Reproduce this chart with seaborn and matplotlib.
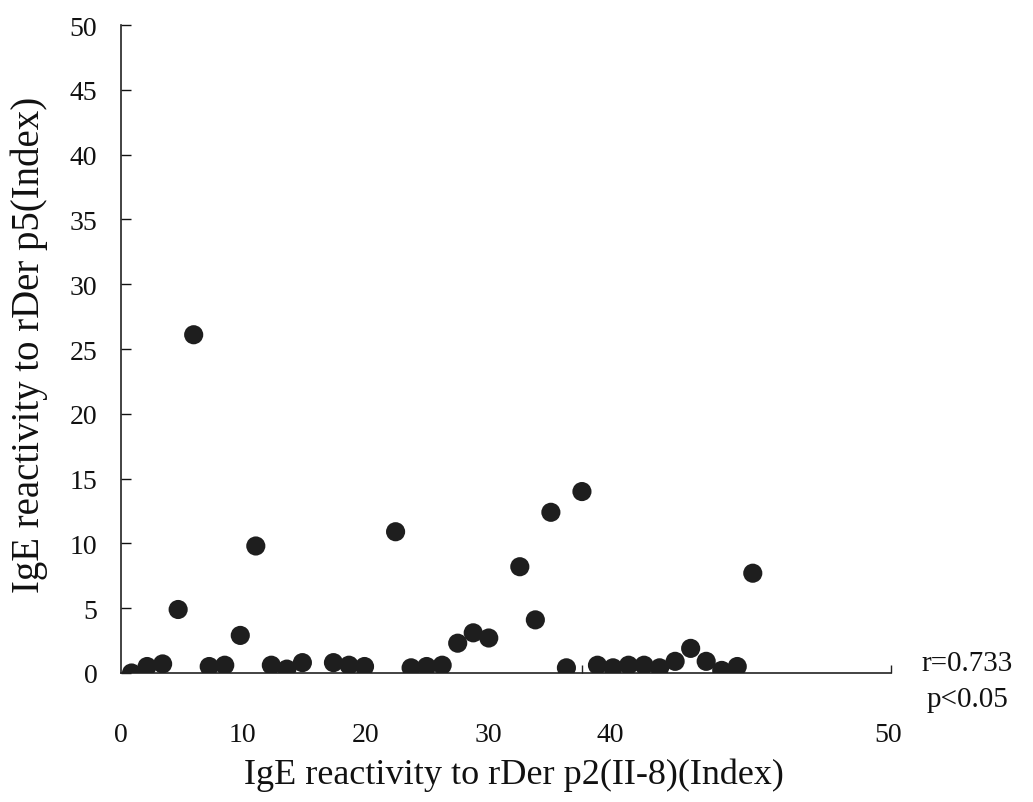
import matplotlib
matplotlib.use("Agg")
import matplotlib.pyplot as plt
import seaborn as sns
import pandas as pd

# ---- data ----
subject = [1, 2, 3, 4, 5, 6, 7, 8, 9, 10, 11, 12, 14, 15, 16, 18, 19, 20, 21,
           22, 23, 24, 26, 27, 28, 29, 30, 31, 32, 33, 34, 35, 36, 37, 38, 39,
           40, 41]
der_p5 = [0.0, 0.5, 0.7, 4.9, 26.1, 0.5, 0.6, 2.9, 9.8, 0.6, 0.3, 0.8, 0.8,
          0.6, 0.5, 10.9, 0.4, 0.5, 0.6, 2.3, 3.1, 2.7, 8.2, 4.1, 12.4, 0.4,
          14.0, 0.6, 0.4, 0.6, 0.6, 0.4, 0.9, 1.9, 0.9, 0.2, 0.5, 7.7]
x_tick_labels = ["0", "10", "20", "30", "40", "50"]
y_ticks = [0, 5, 10, 15, 20, 25, 30, 35, 40, 45, 50]
stats_text = ["r=0.733", "p<0.05"]

df = pd.DataFrame({"x": subject, "y": der_p5})

sns.set_theme(style="white")
plt.rcParams["font.family"] = ["Liberation Serif", "DejaVu Serif"]

fig = plt.figure(figsize=(10.33, 8.03), dpi=100)
ax = fig.add_axes([121 / 1033, 1 - 674 / 803, 770 / 1033, 648 / 803])

sns.scatterplot(data=df, x="x", y="y", ax=ax, s=190, color="#1e1e1e",
                edgecolor="none", linewidth=0, legend=False, zorder=3)

ax.set_xlim(0.39, 49.9)
ax.set_ylim(0, 50)

# x tick labels sit where the original printed them
x_label_pos = [0.32, 8.17, 16.08, 23.99, 31.83, 49.7]
ax.set_xticks(x_label_pos)
ax.set_xticklabels(x_tick_labels)
ax.set_xticks([30, 49.9], minor=True)
ax.tick_params(axis="x", which="major", length=0, pad=35, labelsize=20,
               colors="#111111")
ax.tick_params(axis="x", which="minor", direction="in", length=6, width=1,
               color="#222222", bottom=True)

ax.set_yticks(y_ticks)
ax.set_yticklabels([str(v) for v in y_ticks])
ax.tick_params(axis="y", direction="in", length=7, width=1, pad=17,
               labelsize=20, colors="#111111", left=True)

for side in ["top", "right"]:
    ax.spines[side].set_visible(False)
for side in ["left", "bottom"]:
    ax.spines[side].set_color("#222222")
    ax.spines[side].set_linewidth(1.2)

ax.grid(False)

ax.set_xlabel("IgE reactivity to rDer p2(II-8)(Index)", fontsize=26,
              color="#111111", va="center")
ax.xaxis.set_label_coords((514 - 121) / 770, (674 - 775) / 648)
ax.set_ylabel("IgE reactivity to rDer p5(Index)", fontsize=28,
              color="#111111", va="center")
ax.yaxis.set_label_coords((29 - 121) / 770, (674 - 345) / 648)

fig.text(921 / 1033, 1 - 664 / 803, stats_text[0], fontsize=21,
         ha="left", va="center", color="#111111")
fig.text(927 / 1033, 1 - 700 / 803, stats_text[1], fontsize=21,
         ha="left", va="center", color="#111111")

fig.savefig("out.png", dpi=100, facecolor="white")
